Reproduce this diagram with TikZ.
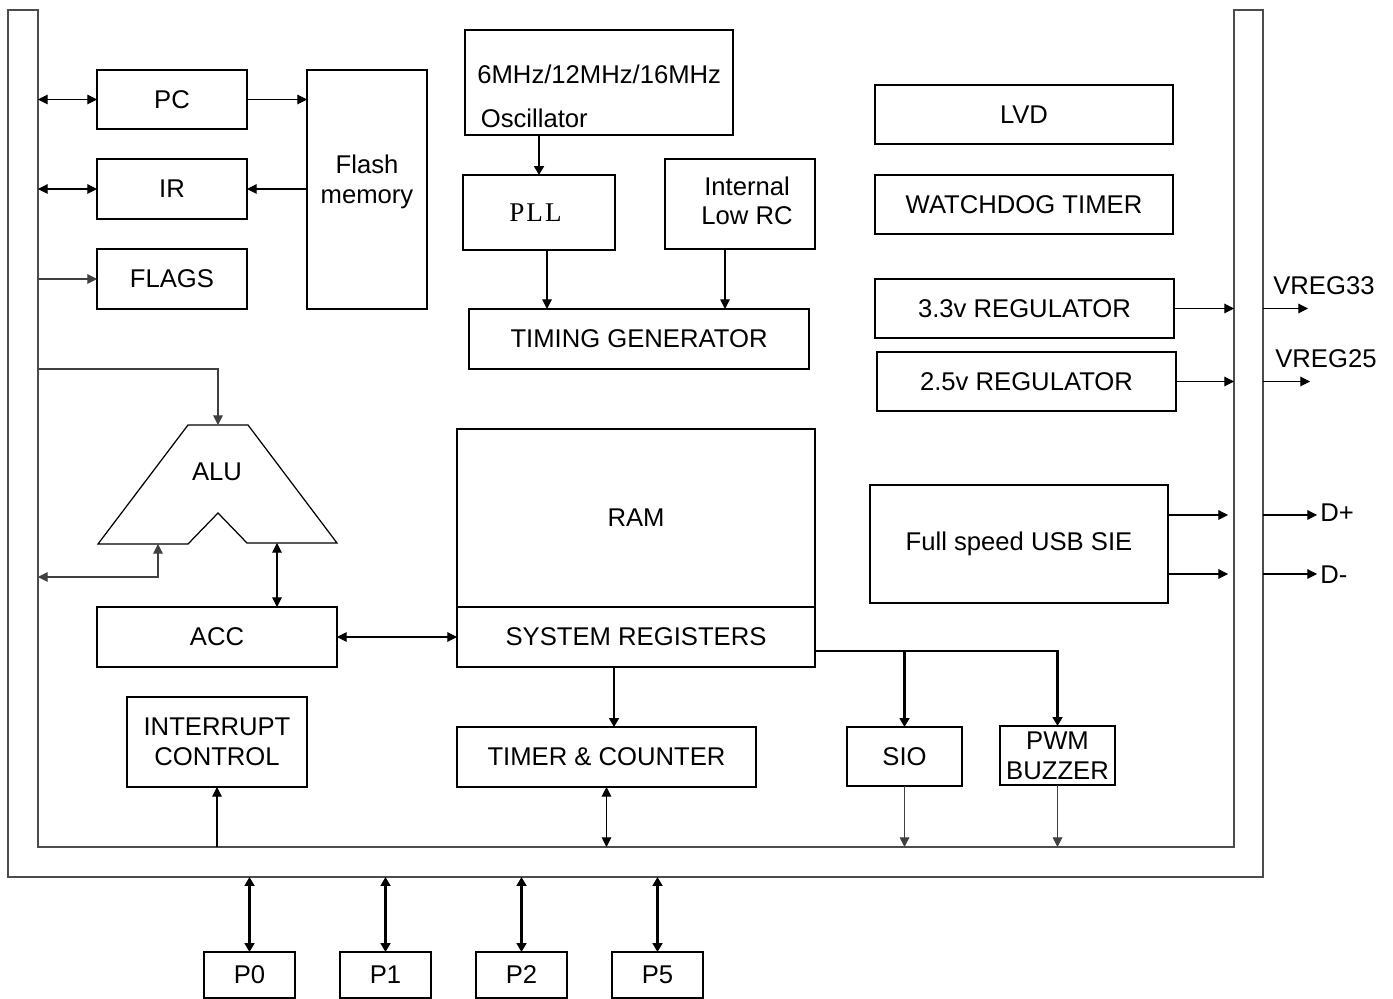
\documentclass[tikz,border=0pt]{standalone}
\usepackage{fontspec}
\setmainfont{Liberation Sans}
\newfontfamily\pllfont{Liberation Serif}
\usetikzlibrary{arrows.meta,calc}
\newcommand\bx[7][]{\node[box,#1,minimum width={(#5-#3)*0.02cm},minimum height={(#6-#4)*0.02cm}] (#2) at ({(#3+#5)/2},{(#4+#6)/2}) {#7};}
\newcommand\twol[2]{\begin{tabular}{@{}c@{}}#1\\#2\end{tabular}}
\begin{document}
\begin{tikzpicture}[x=0.02cm,y=-0.02cm,
  font=\fontsize{14.6pt}{17pt}\selectfont,
  box/.style={draw,line width=0.8pt,inner sep=0pt,outer sep=0pt,align=center},
  conn/.style={line width=0.6pt,-{Triangle[length=5.5pt,width=5.5pt]}},
  bconn/.style={line width=0.6pt,{Triangle[length=5.5pt,width=5.5pt]}-{Triangle[length=5.5pt,width=5.5pt]}},
  tconn/.style={line width=1.3pt,-{Triangle[length=5pt,width=5.5pt]}},
  tbconn/.style={line width=1.3pt,{Triangle[length=5pt,width=5.5pt]}-{Triangle[length=5pt,width=5.5pt]}},
  bus/.style={line width=0.7pt,draw=black!70},
  lbl/.style={inner sep=0pt,anchor=west}]
\useasboundingbox (0,0) rectangle (1393,999);

% bus (U shape)
\draw[bus] (38,10) -- (8,10) -- (8,877) -- (1263,877) -- (1263,10) -- (1234,10) -- (1234,847) -- (38,847) -- cycle;

% boxes
\bx{PC}{97}{70}{247}{129}{PC}
\bx{IR}{97}{159}{247}{219}{IR}
\bx{FLAGS}{97}{249}{247}{309}{FLAGS}
\bx{Flash}{307}{70}{427}{309}{\raisebox{4pt}[\height][\depth]{\twol{Flash}{memory}}}
\bx{Osc}{465}{30}{733}{135}{}
\node[align=left,anchor=west,inner sep=0pt] (osctext) at (477,96) {6MHz/12MHz/16MHz\\[8pt]\hspace*{2pt}Oscillator};
\bx[line width=1.3pt]{PLL}{463}{175}{615}{250}{{\fontsize{15.4pt}{17pt}\pllfont P\kern1.2pt L\kern1.2pt L}\hspace*{4pt}}
\bx{RC}{665}{159}{815}{249}{\hspace*{8pt}\twol{Internal}{Low RC}}
\bx{TG}{469}{309}{809}{369}{TIMING GENERATOR}
\bx{LVD}{875}{85}{1173}{144}{LVD}
\bx{WDT}{875}{175}{1173}{234}{WATCHDOG TIMER}
\bx{REGa}{875}{279}{1174}{338}{3.3v REGULATOR}
\bx{REGb}{877}{352}{1176}{411}{2.5v REGULATOR}
\bx{USB}{870}{485}{1168}{603}{Full speed USB SIE}
\bx{RAM}{457}{429}{815}{607}{RAM}
\bx{SR}{457}{607}{815}{667}{SYSTEM REGISTERS}
\bx{ACC}{97}{607}{337}{667}{ACC}
\bx{INT}{127}{697}{307}{787}{INTERRUPT\\CONTROL}
\bx{TMR}{457}{727}{756}{787}{TIMER \& COUNTER}
\bx{SIO}{847}{727}{962}{786}{SIO}
\bx{PWM}{1000}{726}{1115}{785}{PWM\\BUZZER}
\bx{P0}{204}{952}{295}{998}{P0}
\bx{P1}{340}{952}{431}{998}{P1}
\bx{P2}{476}{952}{567}{998}{P2}
\bx{P5}{612}{952}{703}{998}{P5}

% ALU
\draw[line width=0.7pt] (188,425) -- (248,425) -- (337,543) -- (247,543) -- (218,513) -- (188,544) -- (98,544) -- cycle;
\node (ALU) at (217,472) {ALU};
\coordinate (alutop) at (218,425);
\coordinate (aluL) at (158,544);
\coordinate (aluR) at (277,543);

% bus coordinates
\coordinate (bPC) at (38,99.5);
\coordinate (bIR) at (38,189);
\coordinate (bFL) at (38,279);
\coordinate (bALU) at (38,369);
\coordinate (bALUin) at (38,577);
\coordinate (bINT) at (217,847);
\coordinate (bTMR) at (606.5,847);
\coordinate (bSIO) at (904.5,847);
\coordinate (bPWM) at (1057.5,847);
\coordinate (bR33) at (1234,308.5);
\coordinate (bR25) at (1234,381.5);
\coordinate (oR33) at (1263,308.5);
\coordinate (oR25) at (1263,381.5);
\coordinate (eR33) at (1308,308.5);
\coordinate (eR25) at (1310,381.5);
\coordinate (uDp) at (1228,515);
\coordinate (uDm) at (1228,574);
\coordinate (oDp) at (1263,515);
\coordinate (oDm) at (1263,574);
\coordinate (eDp) at (1317,515);
\coordinate (eDm) at (1317,574);

% left side connectors
\draw[bconn] (bPC) -- (PC.west);
\draw[bconn] (bIR) -- (IR.west);
\draw[conn,draw=black!75] (bFL) -- (FLAGS.west);
\draw[conn] (PC.east) -- (PC.east -| Flash.west);
\draw[conn] (IR.east -| Flash.west) -- (IR.east);
\draw[conn,draw=black!75] (bALU) -| (alutop);
\draw[bconn,draw=black!75] (bALUin) -| (aluL);
\draw[bconn] (aluR) -- (aluR |- ACC.north);
\draw[bconn] (ACC.east) -- (SR.west);
\draw[conn] (bINT) -- (INT.south);

% clock
\draw[tconn] (Osc.south -| PLL.north) -- (PLL.north);
\coordinate (pllout) at ($(PLL.south)+(8,0)$);
\draw[conn] (pllout) -- (pllout |- TG.north);
\coordinate (rcout) at ($(RC.south)+(-15,0)$);
\draw[conn] (rcout) -- (rcout |- TG.north);

% system registers
\coordinate (srt) at ($(SR.south)+(-22,0)$);
\draw[tconn] (srt) -- (srt |- TMR.north);
\coordinate (srb) at ($(SR.east)+(0,14)$);
\draw[tconn] (srb) -| (PWM.north);
\draw[tconn] (srb -| SIO.north) -- (SIO.north);
\draw[bconn] (TMR.south) -- (bTMR);
\draw[conn,draw=black!75] (SIO.south) -- (bSIO);
\draw[conn,draw=black!75] (PWM.south) -- (bPWM);

% right side
\draw[conn] (REGa.east) -- (bR33);
\draw[conn] (REGb.east) -- (bR25);
\draw[conn] (oR33) -- (eR33);
\draw[conn] (oR25) -- (eR25);
\draw[conn] (USB.east |- uDp) -- (uDp);
\draw[conn] (USB.east |- uDm) -- (uDm);
\draw[conn] (oDp) -- (eDp);
\draw[conn] (oDm) -- (eDm);
\node[lbl] (VREG33) at (1273,286) {VREG33};
\node[lbl] (VREG25) at (1275,359) {VREG25};
\node[lbl] (Dp) at (1320,513) {D+};
\node[lbl] (Dm) at (1320,575) {D-};

% ports
\draw[tbconn] (P0.north |- 0,877) -- (P0.north);
\draw[tbconn] (P1.north |- 0,877) -- (P1.north);
\draw[tbconn] (P2.north |- 0,877) -- (P2.north);
\draw[tbconn] (P5.north |- 0,877) -- (P5.north);
\end{tikzpicture}
\end{document}
